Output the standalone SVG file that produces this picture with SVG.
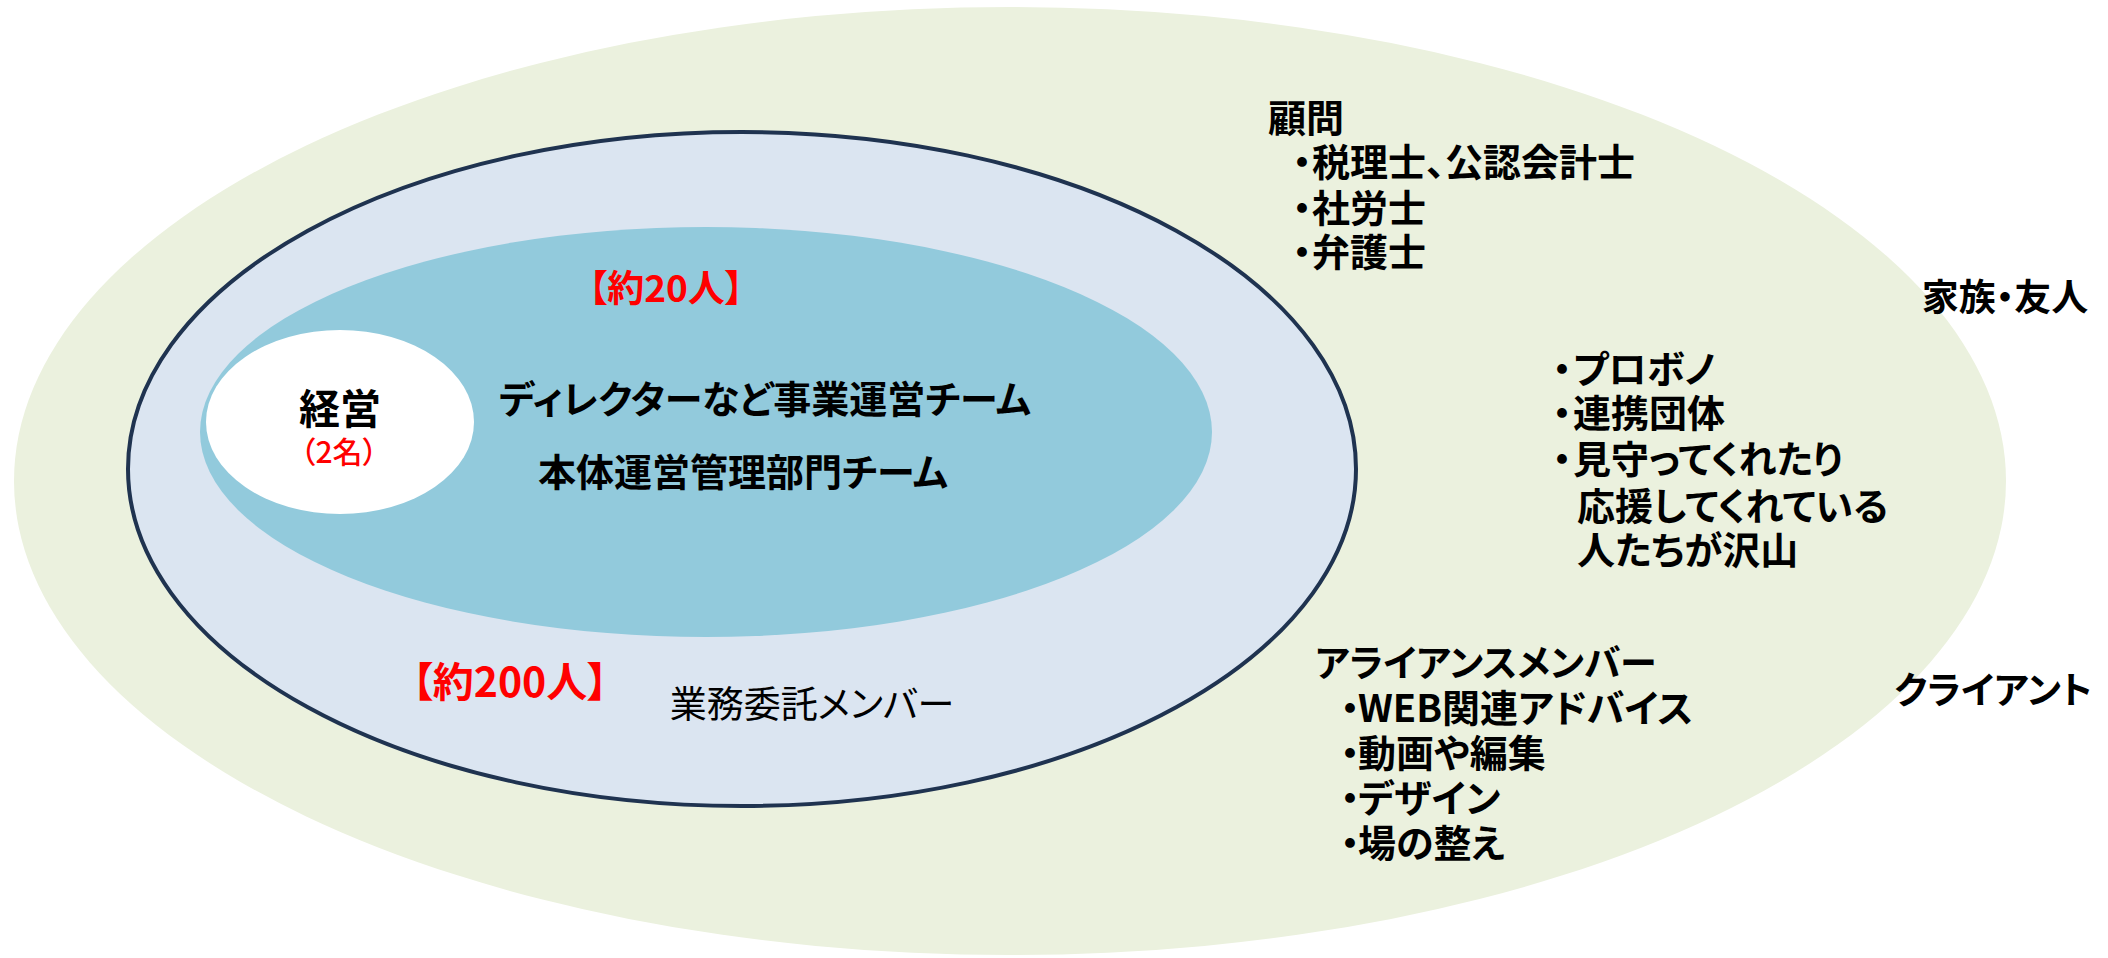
<svg xmlns="http://www.w3.org/2000/svg" width="2108" height="958" viewBox="0 0 2108 958">
<style>
text{font-family:"Noto Sans CJK JP","Noto Sans",sans-serif;font-feature-settings:"palt" 1;fill:#000}
.b{font-weight:700}
.r{font-weight:400}
.red{fill:#FF0000}
.m{text-anchor:middle}
.l36{font-size:37px;font-weight:700}
.l38{font-size:38px;font-weight:700}
.d{text-anchor:middle}
</style>
<rect width="2108" height="958" fill="#FFFFFF"/>
<g id="outer-ring">
<ellipse cx="1010" cy="481" rx="996" ry="474" fill="#EBF1DE"/>
</g>
<g id="member-ring">
<ellipse cx="742" cy="469" rx="614" ry="337" fill="#DBE5F1" stroke="#1F3350" stroke-width="4"/>
</g>
<g id="core-team">
<ellipse cx="706" cy="432" rx="506" ry="205" fill="#92CADC"/>
</g>
<g id="management">
<ellipse cx="340" cy="422" rx="134" ry="92" fill="#FFFFFF"/>
<text class="b m" x="340" y="424" font-size="41">経営</text>
<text class="m red" x="339" y="463" font-size="30" font-weight="500">（2名）</text>
</g>
<g id="core-labels">
<text class="b m red" x="666" y="302" font-size="37">【約20人】</text>
<text class="b m" x="765" y="413" font-size="38">ディレクターなど事業運営チーム</text>
<text class="b m" x="743" y="486" font-size="38">本体運営管理部門チーム</text>
</g>
<g id="member-labels">
<text class="b m red" x="510" y="697" font-size="41">【約200人】</text>
<text class="r m" x="812" y="718" font-size="37">業務委託メンバー</text>
</g>
<g id="advisors">
<text class="l38" x="1268" y="132">顧問</text>
<text class="l38"><tspan class="d" x="1302" y="176">・</tspan><tspan x="1312" y="176">税理士、公認会計士</tspan></text>
<text class="l38"><tspan class="d" x="1302" y="222">・</tspan><tspan x="1312" y="222">社労士</tspan></text>
<text class="l38"><tspan class="d" x="1302" y="266">・</tspan><tspan x="1312" y="266">弁護士</tspan></text>
</g>
<g id="family">
<text class="l36 m" x="2005" y="311">家族・友人</text>
</g>
<g id="supporters">
<text class="l38"><tspan class="d" x="1562" y="383">・</tspan><tspan x="1573" y="383">プロボノ</tspan></text>
<text class="l38"><tspan class="d" x="1562" y="427">・</tspan><tspan x="1573" y="427">連携団体</tspan></text>
<text class="l38"><tspan class="d" x="1562" y="473">・</tspan><tspan x="1573" y="473">見守ってくれたり</tspan></text>
<text class="l38" x="1577" y="520">応援してくれている</text>
<text class="l38" x="1577" y="564">人たちが沢山</text>
</g>
<g id="alliance">
<text class="l36" x="1315" y="677">アライアンスメンバー</text>
<text class="l38"><tspan class="d" x="1350" y="722">・</tspan><tspan x="1358" y="722">WEB関連アドバイス</tspan></text>
<text class="l38"><tspan class="d" x="1350" y="767">・</tspan><tspan x="1358" y="767">動画や編集</tspan></text>
<text class="l38"><tspan class="d" x="1350" y="812">・</tspan><tspan x="1358" y="812">デザイン</tspan></text>
<text class="l38"><tspan class="d" x="1350" y="857">・</tspan><tspan x="1358" y="857">場の整え</tspan></text>
</g>
<g id="client">
<text class="l36 m" x="1993" y="704">クライアント</text>
</g>
</svg>
